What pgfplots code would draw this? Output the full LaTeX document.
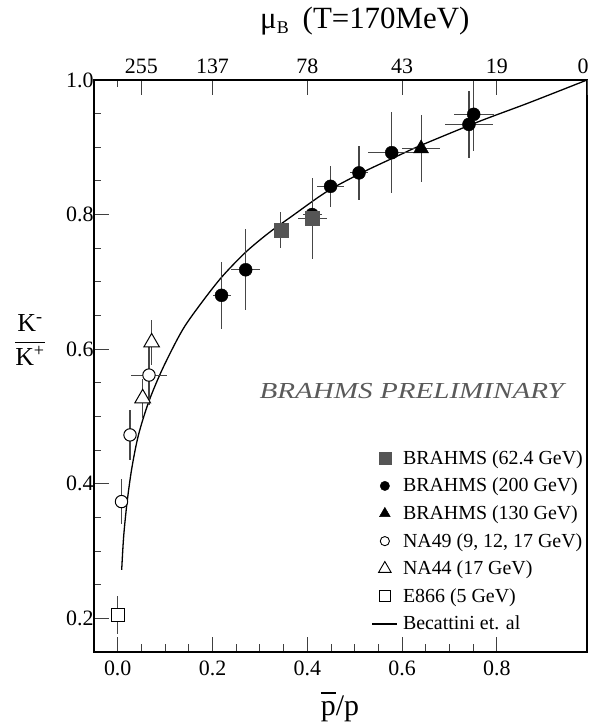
\documentclass[border=0pt]{standalone}
\usepackage{fontspec}
\setmainfont{Liberation Serif}
\usepackage{graphicx}
\usepackage{pgfplots}
\pgfplotsset{compat=1.18}
\definecolor{sqgray}{RGB}{85,85,85}
\definecolor{txtgray}{RGB}{90,90,90}
\definecolor{errgray}{RGB}{70,70,70}
\pgfplotsset{
  legimg/.style={legend image code/.code={\draw[mark repeat=2,mark phase=2,##1] plot coordinates {(0bp,0bp) (12.5bp,0bp) (25bp,0bp)};}},
  ebars/.style={error bars/.cd, x dir=both, x explicit, y dir=both, y explicit, error mark=none, error bar style={line width=1.1bp, errgray}},
}
\begin{document}
\begin{tikzpicture}
\useasboundingbox (-94bp,-75bp) rectangle (495bp,652bp);
\begin{axis}[
  at={(0,0)}, anchor=south west,
  scale only axis, width=493bp, height=572bp,
  xmin=-0.05, xmax=0.99, ymin=0.15, ymax=1.0,
  xtick={0,0.2,0.4,0.6,0.8}, minor x tick num=3,
  ytick={0.2,0.4,0.6,0.8,1.0}, minor y tick num=3,
  xtick pos=bottom, ytick pos=left,
  tick align=inside,
  major tick length=15bp, minor tick length=7.5bp,
  every tick/.style={line width=1bp, black!75},
  axis line style={line width=1.3bp},
  /pgf/number format/assume math mode=true,
  tick label style={font=\fontsize{22}{22}\selectfont, /pgf/number format/assume math mode=true},
  xticklabel style={/pgf/number format/fixed, /pgf/number format/fixed zerofill, /pgf/number format/precision=1, yshift=-5bp},
  yticklabel style={/pgf/number format/fixed, /pgf/number format/fixed zerofill, /pgf/number format/precision=1, xshift=3bp},
  legend style={at={(0.5633,0.3561)}, anchor=north west, draw=none, fill=none,
    inner sep=0pt, outer sep=0pt, row sep=7.6bp, column sep=5bp,
    font=\fontsize{20}{20}\selectfont,
    nodes={inner sep=0pt, text height=16bp, text depth=4bp}},
  legend cell align=left,
]
% Becattini et al. curve
\addplot[smooth, line width=1.3bp, black, forget plot] coordinates {
 (0.0084,0.272) (0.0126,0.322) (0.0197,0.372) (0.0295,0.422) (0.0436,0.472)
 (0.0653,0.5215) (0.0947,0.571) (0.1368,0.6287) (0.179,0.671) (0.221,0.7084)
 (0.2703,0.7443) (0.3194,0.7732) (0.3684,0.7981) (0.4246,0.8265) (0.4600,0.8420)
 (0.523,0.865) (0.593,0.888) (0.640,0.903) (0.761,0.938) (0.867,0.966) (0.99,1.0)
};
% E866 open square
\addplot[only marks, mark=square*, mark size=6.6bp, mark options={fill=white, draw=black, line width=1bp}, forget plot, ebars] coordinates {
 (0.0,0.205) +- (0,0.028)
};
% NA49 open circles
\addplot[only marks, mark=*, mark size=6.2bp, mark options={fill=white, draw=black, line width=1bp}, forget plot, ebars] coordinates {
 (0.008,0.3735) +- (0,0.034)
 (0.026,0.4726) +- (0,0.037)
 (0.066,0.5615) +- (0.039,0.045)
};
% NA44 open triangles
\addplot[only marks, mark=triangle*, mark size=9bp, mark options={fill=white, draw=black, line width=1bp}, forget plot, ebars] coordinates {
 (0.0527,0.527) +- (0,0.029)
 (0.0716,0.610) +- (0,0.033)
};
% BRAHMS 200 GeV filled circles
\addplot[only marks, mark=*, mark size=6.5bp, black, forget plot, ebars] coordinates {
 (0.219,0.680) +- (0.019,0.050)
 (0.270,0.718) +- (0.030,0.060)
 (0.410,0.800) +- (0.020,0.040)
 (0.449,0.842) +- (0.029,0.030)
 (0.509,0.862) +- (0.020,0.040)
 (0.578,0.892) +- (0.050,0.060)
 (0.741,0.934) +- (0.050,0.050)
 (0.751,0.949) +- (0.042,0.055)
};
% BRAHMS 62.4 GeV gray squares
\addplot[only marks, mark=square*, mark size=7bp, mark options={draw=sqgray, fill=sqgray}, forget plot, ebars] coordinates {
 (0.344,0.777) +- (0.013,0.027)
 (0.411,0.794) +- (0.030,0.060)
};
% BRAHMS 130 GeV filled triangle
\addplot[only marks, mark=triangle*, mark size=8.7bp, black, forget plot, ebars] coordinates {
 (0.640,0.898) +- (0.040,0.050)
};
% legend
\addlegendimage{only marks, mark=square*, mark size=6bp, mark options={draw=sqgray, fill=sqgray}, legimg}
\addlegendentry{BRAHMS (62.4 GeV)}
\addlegendimage{only marks, mark=*, mark size=4.7bp, black, legimg}
\addlegendentry{BRAHMS (200 GeV)}
\addlegendimage{only marks, mark=triangle*, mark size=6.2bp, black, legimg}
\addlegendentry{BRAHMS (130 GeV)}
\addlegendimage{only marks, mark=*, mark size=4.6bp, mark options={fill=white, draw=black, line width=0.9bp}, legimg}
\addlegendentry{NA49 (9, 12, 17 GeV)}
\addlegendimage{only marks, mark=triangle*, mark size=7.2bp, mark options={fill=white, draw=black, line width=0.9bp}, legimg}
\addlegendentry{NA44 (17 GeV)}
\addlegendimage{only marks, mark=square*, mark size=5.5bp, mark options={fill=white, draw=black, line width=0.9bp}, legimg}
\addlegendentry{E866 (5 GeV)}
\addlegendimage{black, line width=1.3bp, legimg}
\addlegendentry{Becattini et. al}
\end{axis}
\begin{axis}[
  at={(0,0)}, anchor=south west,
  scale only axis, width=493bp, height=572bp,
  xmin=-0.05, xmax=0.99, ymin=0.15, ymax=1.0,
  axis x line*=top, axis y line=none,
  xtick={0.05,0.2,0.4,0.6,0.8}, xticklabels={255,137,78,43,19},
  extra x ticks={0.99}, extra x tick labels={0},
  extra x tick style={xticklabel style={xshift=-4bp}},
  minor xtick={0},
  tick align=inside,
  major tick length=15bp, minor tick length=7bp,
  every tick/.style={line width=1bp, black!75},
  axis line style={line width=1.3bp},
  tick label style={font=\fontsize{22}{22}\selectfont},
  xticklabel style={yshift=3bp},
]
\end{axis}
\node[anchor=base west, font=\fontsize{31}{31}\selectfont, inner sep=0pt] at (166bp,623.7bp) {μ\raisebox{-5bp}{\fontsize{18}{18}\selectfont B}\hspace{14bp}(T=170MeV)};
\node[anchor=base, font=\fontsize{30}{30}\selectfont, inner sep=0pt] at (246bp,-63bp) {\makebox[0pt][l]{\rule[21.5bp]{15bp}{1.3bp}}p/p};
\node[font=\fontsize{26}{26}\selectfont, inner sep=0pt] at (-64bp,312bp) {$\displaystyle\frac{\mbox{K\textsuperscript{-}}}{\mbox{K\textsuperscript{+}}}$};
\node[anchor=base, inner sep=0pt, text=txtgray, font=\fontsize{23}{23}\selectfont\itshape] at (317.7bp,253.7bp) {\scalebox{1.27}[1]{BRAHMS PRELIMINARY}};
\end{tikzpicture}
\end{document}
